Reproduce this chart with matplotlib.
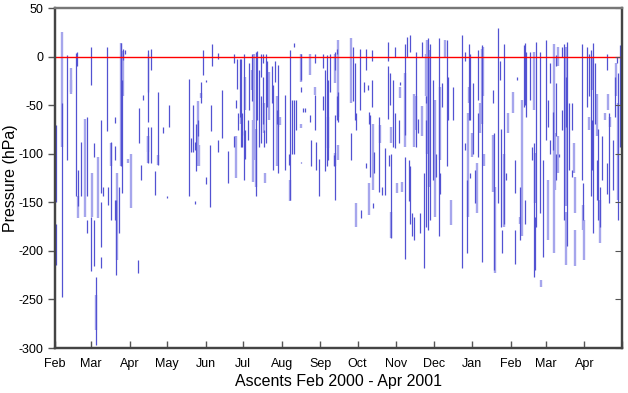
import numpy as np
import pandas as pd
import matplotlib.pyplot as plt

plt.rcParams["font.family"] = ["Liberation Sans", "DejaVu Sans"]
plt.rcParams["axes.unicode_minus"] = False

# ascents: (day since 2000-02-01, top pressure, bottom pressure)
dark_segs = [
    (0.5, -70, -150), (0.5, -172, -215), (5.4, -48, -247), (9.9, 2, -106),
    (16.6, 4, -144), (17.9, 5, -10), (18.7, -117, -154), (20.9, -88, -144),
    (25.9, -62, -144), (25.9, -168, -182), (28.6, 10, -29), (28.6, -165, -221),
    (31.6, -89, -103), (31.6, -168, -216), (32.6, -227, -297), (36.9, -65, -140),
    (36.9, -150, -196), (36.9, -206, -218), (38.8, -134, -144), (41.5, 10, -77),
    (42.8, -134, -153), (44.7, -88, -168), (48.2, -62, -68), (48.2, -92, -106),
    (48.2, -148, -168), (49.0, -148, -225), (51.4, -134, -182), (52.7, 14, -113),
    (53.5, -24, -140), (54.8, 8, -3), (56.2, 7, 3), (66.6, -209, -223),
    (67.7, -53, -89), (69.0, -112, -127), (70.9, -40, -45), (74.9, 3, -36),
    (74.6, 7, -67), (74.6, -72, -110), (76.7, 8, -14), (76.7, -72, -110),
    (80.5, -118, -142), (82.6, -36, -112), (86.6, -72, -79), (90.1, -144, -146),
    (91.2, -50, -72), (107.5, -23, -143), (109.4, -84, -98), (111.0, -50, -98),
    (112.0, -88, -96), (112.0, -149, -152), (113.4, -69, -118), (114.7, -65, -82),
    (117.4, -26, -48), (119.0, 7, -19), (121.4, -24, -26), (121.4, -124, -131),
    (124.1, -91, -155), (125.4, -50, -77), (126.2, 13, -10), (130.8, 4, -2),
    (130.8, -86, -98), (134.0, -34, -84), (138.8, -97, -130), (143.6, 3, -7),
    (143.6, -82, -93), (145.5, -45, -53), (146.3, -2, -33), (146.8, -58, -76),
    (149.0, -2, -93), (150.0, -77, -81),
    (148.5, -2, -62), (149.8, -58, -93), (151.7, 3, -127), (152.5, -76, -105),
    (155.2, -65, -86), (156.0, -7, -55), (158.4, 3, -46), (161.1, 5, -144),
    (162.4, 6, -65), (164.0, -14, -93), (165.1, 3, -21), (165.1, -41, -89),
    (166.7, 3, -7), (166.7, -21, -69), (167.8, -76, -93), (169.4, 3, -89),
    (170.4, -4, -52), (173.9, -10, -48), (175.3, -29, -117), (176.9, -5, -26),
    (178.0, -55, -69), (179.3, -9, -120), (184.6, -40, -117), (188.1, -100, -112),
    (188.6, 7, -148), (190.0, -45, -100), (192.1, 14, 10), (192.1, -45, -100),
    (193.2, -45, -76), (197.2, 3, -24), (197.2, -31, -36), (197.2, -108, -110),
    (199.3, -53, -57), (200.7, -53, -57), (204.7, -60, -67), (205.2, -86, -113),
    (208.7, 3, -7), (208.7, -40, -76), (209.5, -88, -117), (211.9, -105, -143),
    (215.4, 3, -12), (215.4, -41, -55), (216.7, -14, -118), (218.6, 2, -113),
    (219.4, -24, -106), (220.7, 3, -36), (224.0, -101, -113),
    (225.0, 5, -14), (225.0, -60, -148), (226.3, 8, 3), (226.3, -41, -65),
    (227.6, -36, -67), (237.8, -79, -106), (238.9, 10, -46), (241.0, -7, -65),
    (241.6, -58, -76), (245.0, 8, -55), (245.8, -158, -166), (247.7, -26, -36),
    (249.6, 8, -14), (249.6, -110, -115), (251.2, -29, -34), (251.7, -57, -69),
    (253.1, -60, -124), (254.4, 7, -4), (254.4, -24, -52), (255.7, -151, -156),
    (256.5, -98, -120), (259.8, -62, -139), (262.4, -134, -142), (265.1, -94, -142),
    (267.2, 15, -4), (267.2, -10, -64), (267.8, -101, -113), (269.1, -17, -50),
    (269.9, -100, -187), (271.3, -24, -93), (273.1, 10, 0), (273.1, -58, -94),
    (275.8, -65, -89), (277.1, -26, -29), (281.2, 13, -81), (281.2, -103, -208),
    (282.5, 20, 0), (284.4, -106, -149), (285.4, 22, 5), (285.4, -113, -172),
    (287.0, -161, -185), (288.6, -165, -189), (289.7, 5, -93), (291.3, -64, -79),
    (293.2, -161, -182), (294.5, 15, 0), (295.9, -120, -218), (297.7, -41, -48),
    (297.5, -65, -175), (299.1, 19, -178), (301.0, 13, -168), (303.7, -24, -127),
    (305.8, -100, -124), (308.2, 19, -185), (309.0, -120, -141), (310.4, -27, -52),
    (314.4, 17, -113), (315.7, -21, -65), (319.7, -31, -65), (326.4, 22, -218),
    (329.1, 5, -4), (329.1, -89, -96), (330.4, -127, -202), (332.3, 13, -65),
    (333.1, 3, -65), (333.1, -120, -125), (335.8, -27, -100), (337.1, -117, -151),
    (339.8, 7, -45), (339.8, -58, -103), (342.5, 12, -211), (351.8, -34, -48),
    (352.6, -79, -220), (355.9, 29, -151), (357.2, -4, -24), (358.0, -75, -175),
    (359.1, -178, -202), (360.7, 13, -172), (361.7, -120, -127), (369.2, -106, -140),
    (369.2, -178, -213), (370.6, -21, -24), (373.2, -134, -189), (376.4, 12, -52),
    (377.0, 14, -50), (377.0, -148, -172), (378.0, 5, -62), (381.5, 5, -45),
    (382.8, -93, -106), (384.2, -89, -227), (385.5, -165, -220), (386.3, 15, -175),
    (389.5, 5, -161), (391.4, -106, -206), (394.0, 17, -86), (395.7, -45, -72),
    (397.5, -7, -27), (397.5, -86, -100), (400.2, -57, -96), (402.4, 2, -10),
    (402.4, -27, -82), (402.4, -100, -127), (404.8, -100, -103), (406.9, 10, 0),
    (406.9, -55, -76), (409.0, 13, -168), (410.4, -21, -72), (410.9, 15, -195),
    (412.3, -48, -117), (414.9, -48, -76), (414.9, -117, -124), (423.0, 13, -127),
    (424.3, -130, -168), (427.0, 10, -52), (429.1, 3, -41), (430.2, 7, -144),
    (431.0, -65, -117), (432.3, 14, -182), (433.7, -7, -69), (435.0, -106, -148),
    (436.3, -75, -168), (437.7, -134, -175), (439.0, -82, -127), (443.0, 3, -14),
    (443.0, -110, -141), (444.9, -58, -151), (448.4, -86, -137), (449.7, -21, -62),
    (451.6, 0, -7), (452.4, -17, -168), (453.7, 12, -93),
]

light_segs = [
    (5.4, 25, -93), (12.6, -12, -36), (12.6, -24, -38), (18.7, -144, -166),
    (24.1, -64, -165), (29.4, -120, -165), (32.6, -245, -281), (34.8, -103, -166),
    (44.7, -89, -113), (50.0, -120, -209), (52.7, 14, -113), (54.8, 6, -41),
    (58.3, -105, -110), (61.0, -100, -156), (74.4, -82, -98), (74.6, -82, -110),
    (82.6, -101, -112), (114.7, -46, -113), (116.0, -91, -113), (117.4, -37, -43),
    (145.5, -82, -125), (149.0, -62, -69),
    (152.5, -21, -55), (158.4, -14, -34), (159.2, -65, -129), (160.0, 3, -106),
    (161.1, -75, -134), (167.8, -48, -79), (168.6, -120, -130), (172.0, -16, -65),
    (178.0, -41, -113), (179.3, -55, -72), (180.6, -62, -70), (188.6, -127, -149),
    (197.2, 3, -26), (197.2, -69, -74), (204.7, 3, -19), (208.7, -31, -40),
    (219.4, -62, -94),
    (225.0, 3, -27), (225.0, -99, -113), (227.6, 17, -62), (227.6, -91, -106),
    (237.8, 19, -48), (241.6, -151, -175), (251.7, -130, -163), (255.7, -69, -137),
    (261.0, -70, -89), (269.9, -72, -89), (269.9, -160, -187), (274.5, -130, -140),
    (277.1, -31, -43), (278.5, -129, -139), (281.2, -17, -93), (288.6, -38, -93),
    (289.7, -41, -76), (294.5, -51, -82), (297.7, 3, -41),
    (298.3, 17, -100), (300.2, 7, -134), (305.0, -45, -165), (309.0, -31, -106),
    (313.0, 17, 0), (317.9, -148, -173), (331.2, -58, -165), (332.3, -31, -48),
    (334.5, -79, -103), (338.5, -110, -161), (341.1, -48, -79), (342.5, 8, -69),
    (343.8, 10, -41), (344.6, -100, -113), (351.8, -81, -139), (353.2, -134, -223),
    (360.7, -100, -175), (363.3, -58, -79), (367.9, -36, -58), (373.2, -165, -172),
    (374.6, -45, -185),
    (384.2, 5, -55), (385.5, -99, -151), (395.7, -127, -189), (390.0, -230, -237),
    (401.0, 13, -202), (401.5, -79, -137), (403.7, 10, -10), (403.7, -82, -120),
    (410.4, 10, -154), (410.0, -160, -215), (416.3, -89, -120), (417.1, -124, -161),
    (417.6, -178, -216), (424.3, -153, -178), (424.8, -168, -209), (429.1, -62, -76),
    (431.0, 0, -34), (435.0, -38, -82), (437.7, -148, -192), (441.6, -58, -65),
    (443.6, -38, -55), (445.5, -62, -72), (450.5, -7, -41), (452.4, -48, -148),
]

start = pd.Timestamp("2000-02-01")
month_starts = pd.date_range("2000-02-01", "2001-05-01", freq="MS")
month_days = (month_starts - start).days.values
month_labels = [d.strftime("%b") for d in month_starts[:-1]] + [""]

fig = plt.figure(figsize=(6.28, 3.93), dpi=100)
ax = fig.add_axes([0.0876, 0.1145, 0.9024, 0.865])

ld, lt, lb = np.array(light_segs).T
ax.vlines(ld, lb, lt, colors="#a6a6ec", linewidth=1.7)
dd, dt, db = np.array(dark_segs).T
ax.vlines(dd, db, dt, colors="#5252d2", linewidth=0.9)
ax.axhline(0, color="red", linewidth=1.0)

ax.set_xlim(0, month_days[-1])
ax.set_ylim(-300, 50)
ax.set_xticks(month_days)
ax.set_xticklabels(month_labels)
ax.set_yticks(np.arange(-300, 51, 50))
ax.tick_params(axis="x", direction="in", length=5, width=1, color="#555555", labelsize=9, pad=7)
ax.tick_params(axis="y", direction="out", length=5, width=1, color="#555555", labelsize=9)

# inward ticks on the right side
ax2 = ax.twinx()
ax2.set_ylim(-300, 50)
ax2.set_yticks(np.arange(-300, 51, 50))
ax2.tick_params(axis="y", direction="in", length=5, color="#555555", labelright=False)

for a in (ax, ax2):
    for name, sp in a.spines.items():
        sp.set_linewidth(1.6)
        sp.set_color("#444444")
    a.spines["top"].set_color("#777777")

ax.set_xlabel("Ascents Feb 2000 - Apr 2001", fontsize=11.5, labelpad=3)
ax.set_ylabel("Pressure (hPa)", fontsize=11.5)
ax.yaxis.set_label_coords(-0.066, 0.5)

fig.savefig("out.png", dpi=100)
